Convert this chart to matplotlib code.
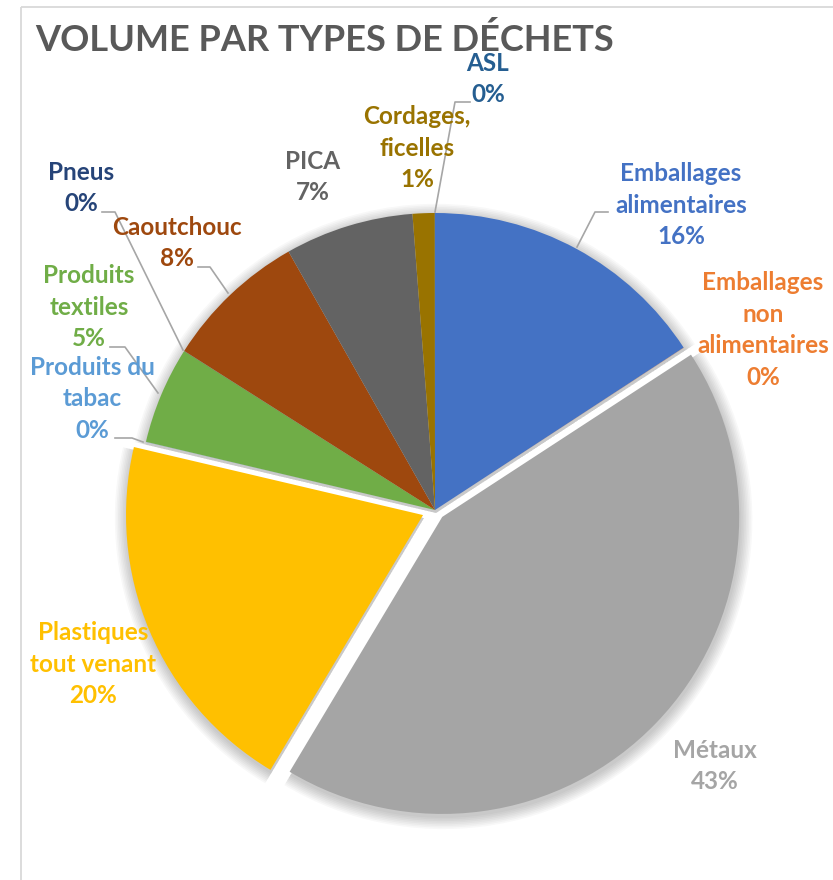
import matplotlib.pyplot as plt
from matplotlib.patches import Rectangle

plt.rcParams['font.family'] = ['Lato', 'DejaVu Sans']

categories = ["Emballages\nalimentaires", "Emballages\nnon\nalimentaires", "Métaux",
              "Plastiques\ntout venant", "Produits du\ntabac", "Produits\ntextiles",
              "Pneus", "Caoutchouc", "PICA", "Cordages,\nficelles", "ASL"]
values = [15.8, 0.01, 42.8, 20.1, 0.01, 5.3, 0.01, 7.8, 7.0, 1.2, 0.01]
colors = ["#4472C4", "#ED7D31", "#A5A5A5", "#FFC000", "#5B9BD5", "#70AD47",
          "#264478", "#9E480E", "#636363", "#997300", "#255E91"]
# offset of the pulled-out slices, in pixels
explode = [0, 0, 10, 13, 0, 0, 0, 0, 0, 0, 0]

# label centres and leader lines, in pixel coordinates of the 833x880 picture
label_pos = [(681, 205), (763, 330), (715, 766), (93, 664), (92, 399), (89, 307),
             (81, 188), (177, 243), (313, 177), (417, 148), (488, 79)]
leaders = {
    0: [(608, 212), (595, 212), (577, 247)],
    4: [(115, 438), (132, 438), (143, 442)],
    5: [(110, 347), (125, 347), (158, 393)],
    6: [(102, 212), (115, 212), (183, 350)],
    7: [(198, 267), (210, 267), (228, 293)],
    10: [(470, 102), (455, 102), (435, 212)],
}

W, H = 833, 880
fig = plt.figure(figsize=(W / 100, H / 100), dpi=100)
ax = fig.add_axes([0, 0, 1, 1])

ax.add_patch(Rectangle((21, 7), W + 50, H + 50, fill=False, ec="#D9D9D9", lw=1.3))

center = (435, 510)
r = 297

# soft shadow
for k in range(8):
    ax.pie(values, explode=explode, radius=r + 1 + k * 1.6, center=(center[0] + 1, center[1] + 3),
           startangle=-90, counterclock=True, colors=["black"] * len(values),
           wedgeprops=dict(alpha=0.028, lw=0), frame=True)

ax.pie(values, explode=explode, radius=r, center=center, startangle=-90, counterclock=True,
       colors=colors, wedgeprops=dict(lw=0), frame=True)
ax.set_xlim(0, W)
ax.set_ylim(H, 0)
ax.set_aspect("equal")
ax.axis("off")

total = sum(values)
for i, (name, v) in enumerate(zip(categories, values)):
    x, y = label_pos[i]
    ax.text(x, y, f"{name}\n{round(v / total * 100):.0f}%", color=colors[i], fontsize=17.5,
            fontweight="bold", ha="center", va="center", linespacing=1.45)

for i, pts in leaders.items():
    ax.plot([p[0] for p in pts], [p[1] for p in pts], color="#A6A6A6", lw=1.2)

ax.text(35, 40, "VOLUME PAR TYPES DE DÉCHETS", color="#595959", fontsize=26,
        fontweight="bold", ha="left", va="center")

fig.savefig("out.png", dpi=100)
